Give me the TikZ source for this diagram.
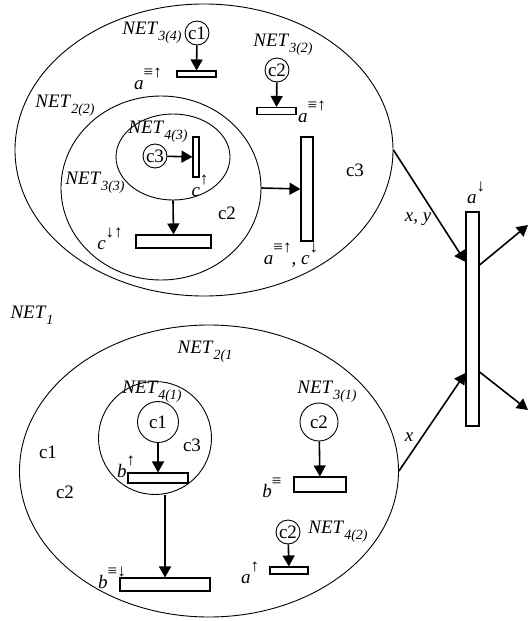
\documentclass[tikz,border=0pt]{standalone}
\usepackage{fontspec}
\setmainfont{Liberation Serif}
\usetikzlibrary{arrows.meta,shapes.geometric}
\newcommand{\net}[1]{\textit{NET}\raisebox{-0.3em}{\fontsize{14}{14}\selectfont\textit{#1}}}
\newcommand{\mrk}[2]{\textit{#1}\raisebox{0.6em}{\fontsize{17}{17}\selectfont #2}}
\begin{document}
\begin{tikzpicture}[x=1pt,y=-1pt,every node/.style = {font=\fontsize{19}{22}\selectfont, inner sep=0pt},
  netbox/.style = {draw, ellipse, line width=0.9pt},
  place/.style = {draw, circle, line width=0.9pt, minimum size=24pt},
  bar/.style = {draw, rectangle, line width=1.1pt, fill=white},
  arc/.style = {-{Triangle[length=11pt,width=12pt]}, line width=1.6pt}]
\useasboundingbox (0,0) rectangle (530,621);
% upper net
\node[netbox, minimum width=378pt, minimum height=292pt] (U) at (204,150) {};
\node[netbox, minimum width=200pt, minimum height=184pt] (M) at (161,188) {};
\node[netbox, minimum width=114pt, minimum height=86pt] (I) at (173,157) {};
\node[place] (p1) at (197,33) {c1};
\node[place] (p2) at (277,70) {c2};
\node[place] (p3) at (155,156) {c3};
\node[bar, minimum width=39pt, minimum height=6pt] (t1) at (196.5,74) {};
\node[bar, minimum width=39pt, minimum height=7pt] (t2) at (276.5,111) {};
\node[bar, minimum width=6pt, minimum height=40pt] (t3) at (196,157) {};
\node[bar, minimum width=75pt, minimum height=13pt] (t4) at (173.5,241.5) {};
\node[bar, minimum width=12pt, minimum height=104pt] (t5) at (307,189) {};
\node (n34) at (152,33) {\net{3(4)}};
\node (n32) at (283,45) {\net{3(2)}};
\node (n22) at (65,106) {\net{2(2)}};
\node (n43) at (158,132) {\net{4(3)}};
\node (n33) at (95,183) {\net{3(3)}};
\node (m1) at (148,79) {\mrk{a}{≡↑}};
\node (m2) at (312,112) {\mrk{a}{≡↑}};
\node (m3) at (200,186) {\mrk{c}{↑}};
\node (m4) at (110,239) {\mrk{c}{↓↑}};
\node (m5) at (291,255) {\mrk{a}{≡↑}, \mrk{c}{↓}};
\node (k1) at (227,213) {c2};
\node (k2) at (355,170) {c3};
\draw[arc] (p1) -- (t1);
\draw[arc] (p2) -- (t2);
\draw[arc] (p3) -- (t3);
\draw[arc] (I.south) -- (t4.north);
\draw[arc] (M.east) -- (t5.west);
% lower net
\node (n1) at (32,315) {\net{1}};
\node[netbox, minimum width=379pt, minimum height=292pt] (L) at (209,471) {};
\node[netbox, circle, minimum size=113pt] (C) at (155,438) {};
\node[place, minimum size=41pt] (q1) at (158,422) {c1};
\node[place, minimum size=38pt] (q2) at (319,422) {c2};
\node[place] (q3) at (288,532) {c2};
\node[bar, minimum width=60pt, minimum height=10pt] (s1) at (158,478) {};
\node[bar, minimum width=90pt, minimum height=13pt] (s2) at (165,584.5) {};
\node[bar, minimum width=52pt, minimum height=15pt] (s3) at (320,484.5) {};
\node[bar, minimum width=38pt, minimum height=7pt] (s4) at (289,570.5) {};
\node (n21) at (205,352) {\net{2(1}};
\node (n41) at (152,392) {\net{4(1)}};
\node (n31) at (327,392) {\net{3(1)}};
\node (n42) at (338,532) {\net{4(2)}};
\node (b1) at (126,467) {\mrk{b}{↑}};
\node (b2) at (112,578) {\mrk{b}{≡↓}};
\node (b3) at (272,488) {\mrk{b}{≡}};
\node (b4) at (250,573) {\mrk{a}{↑}};
\node (k3) at (192,445) {c3};
\node (k4) at (48,452) {c1};
\node (k5) at (65,492) {c2};
\draw[arc] (q1) -- (s1);
\draw[arc] (s2.north |- C.south) -- (s2.north);
\draw[arc] (q2) -- (s3);
\draw[arc] (q3) -- (s4);
% joint transition
\node[bar, minimum width=13pt, minimum height=214pt] (T) at (472.5,319) {};
\node (aT) at (476,193) {\mrk{a}{↓}};
\coordinate (o1) at (528,225);
\coordinate (o2) at (528,410);
\draw[arc] (U.east) -- ([yshift=57pt]T.west) node[pos=0.62, left=6pt] {\textit{x, y}};
\draw[arc] (L.east) -- ([yshift=-54pt]T.west) node[pos=0.35, left=8pt] {\textit{x}};
\draw[arc] ([yshift=54pt]T.east) -- (o1);
\draw[arc] ([yshift=-53pt]T.east) -- (o2);
\end{tikzpicture}
\end{document}
